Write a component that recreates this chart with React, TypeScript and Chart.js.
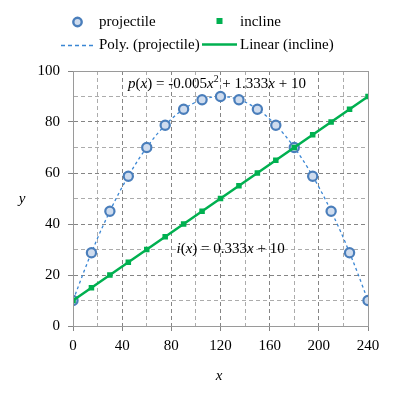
import React, { useEffect, useRef } from 'react';
import { Chart, registerables } from 'chart.js';

Chart.register(...registerables);

const xValues = [0, 15, 30, 45, 60, 75, 90, 105, 120, 135, 150, 165, 180, 195, 210, 225, 240];
const projectile = [10, 28.75, 45, 58.75, 70, 78.75, 85, 88.75, 90, 88.75, 85, 78.75, 70, 58.75, 45, 28.75, 10];
const incline = [10, 15, 20, 25, 30, 35, 40, 45, 50, 55, 60, 65, 70, 75, 80, 85, 90];
const xMajorTicks = [0, 40, 80, 120, 160, 200, 240];
const yMajorTicks = [0, 20, 40, 60, 80, 100];

const SERIF = '"Liberation Serif", "Times New Roman", serif';
const BLUE = '#4a7ebb';
const TREND_BLUE = '#3a86d4';
const GREEN = '#00b050';
const MAJOR = '#858585';
const MINOR = '#acacac';
const FILL = '#cfdcee';

type Run = { t: string; i?: boolean; sup?: boolean };

const pRuns: Run[] = [
  { t: 'p', i: true }, { t: '(' }, { t: 'x', i: true }, { t: ') = -0.005' },
  { t: 'x', i: true }, { t: '2', sup: true }, { t: ' + 1.333' }, { t: 'x', i: true }, { t: ' + 10' },
];
const iRuns: Run[] = [
  { t: 'i', i: true }, { t: '(' }, { t: 'x', i: true }, { t: ') = 0.333' },
  { t: 'x', i: true }, { t: ' + 10' },
];

function runsWidth(ctx: CanvasRenderingContext2D, runs: Run[], size: number) {
  let w = 0;
  for (const r of runs) {
    const fs = r.sup ? size * 0.65 : size;
    ctx.font = `${r.i ? 'italic ' : ''}${fs}px ${SERIF}`;
    w += ctx.measureText(r.t).width;
  }
  return w;
}

function drawRuns(ctx: CanvasRenderingContext2D, runs: Run[], x: number, y: number, size: number, target: number) {
  const natural = runsWidth(ctx, runs, size);
  const chars = runs.reduce((a, r) => a + r.t.length, 0);
  const ls = Math.max(0, (target - natural) / chars);
  let cx = x;
  ctx.fillStyle = '#000';
  ctx.textBaseline = 'middle';
  ctx.textAlign = 'left';
  for (const r of runs) {
    const fs = r.sup ? size * 0.65 : size;
    ctx.font = `${r.i ? 'italic ' : ''}${fs}px ${SERIF}`;
    const dy = r.sup ? -size * 0.3 : 0;
    for (const ch of r.t) {
      ctx.fillText(ch, cx, y + dy);
      cx += ctx.measureText(ch).width + ls;
    }
  }
}

const decorPlugin = {
  id: 'decor',
  afterDatasetsDraw(chart: any) {
    const ctx: CanvasRenderingContext2D = chart.ctx;
    const a = chart.chartArea;
    ctx.save();
    ctx.strokeStyle = '#9a9a9a';
    ctx.lineWidth = 1;
    ctx.setLineDash([]);
    ctx.strokeRect(Math.round(a.left) + 0.5, Math.round(a.top) + 0.5, Math.round(a.right - a.left), Math.round(a.bottom - a.top));
    drawRuns(ctx, pRuns, 128, 84, 15, 178);
    drawRuns(ctx, iRuns, 176.5, 249, 15, 106);
    ctx.font = `italic 15px ${SERIF}`;
    ctx.fillStyle = '#000';
    ctx.textAlign = 'center';
    ctx.textBaseline = 'middle';
    ctx.fillText('y', 22, 199);
    ctx.fillText('x', 219, 376);
    ctx.restore();
  },
  afterDraw(chart: any) {
    const ctx: CanvasRenderingContext2D = chart.ctx;
    ctx.save();
    ctx.font = `15px ${SERIF}`;
    ctx.textBaseline = 'middle';
    ctx.textAlign = 'left';
    ctx.beginPath();
    ctx.arc(77.5, 22, 4.2, 0, Math.PI * 2);
    ctx.fillStyle = FILL;
    ctx.fill();
    ctx.strokeStyle = BLUE;
    ctx.lineWidth = 2.4;
    ctx.stroke();
    ctx.fillStyle = '#000';
    ctx.fillText('projectile', 99, 22);
    ctx.fillStyle = GREEN;
    ctx.fillRect(216.5, 18, 6, 6);
    ctx.fillStyle = '#000';
    ctx.fillText('incline', 240, 22);
    ctx.strokeStyle = TREND_BLUE;
    ctx.lineWidth = 1.4;
    ctx.setLineDash([4, 3]);
    ctx.beginPath();
    ctx.moveTo(61, 45.5);
    ctx.lineTo(93, 45.5);
    ctx.stroke();
    ctx.setLineDash([]);
    ctx.fillText('Poly. (projectile)', 99, 45);
    ctx.strokeStyle = GREEN;
    ctx.lineWidth = 2.5;
    ctx.beginPath();
    ctx.moveTo(202, 44.5);
    ctx.lineTo(237, 44.5);
    ctx.stroke();
    ctx.fillText('Linear (incline)', 240, 45);
    ctx.restore();
  },
};

export default function App() {
  const ref = useRef<HTMLCanvasElement | null>(null);

  useEffect(() => {
    if (!ref.current) return;
    const pts = (ys: number[]) => xValues.map((x, i) => ({ x, y: ys[i] }));
    const chart = new Chart(ref.current, {
      type: 'scatter',
      data: {
        datasets: [
          {
            label: 'incline',
            data: pts(incline),
            showLine: false,
            pointStyle: 'rect',
            pointRadius: 3.9,
            backgroundColor: GREEN,
            borderColor: GREEN,
            borderWidth: 0,
            order: 0,
          },
          {
            label: 'Linear (incline)',
            data: pts(incline),
            showLine: true,
            pointRadius: 0,
            borderColor: GREEN,
            borderWidth: 2.5,
            order: 1,
          },
          {
            label: 'projectile',
            data: pts(projectile),
            showLine: false,
            pointStyle: 'circle',
            pointRadius: 4.6,
            borderWidth: 2.2,
            borderColor: BLUE,
            backgroundColor: FILL,
            order: 2,
          },
          {
            label: 'Poly. (projectile)',
            data: pts(projectile),
            showLine: true,
            tension: 0.4,
            pointRadius: 0,
            borderColor: TREND_BLUE,
            borderWidth: 1.3,
            borderDash: [3, 3],
            order: 3,
          },
        ],
      },
      options: {
        responsive: false,
        animation: false,
        devicePixelRatio: 1,
        layout: { padding: { left: 0, top: 71, right: 28, bottom: 0 } },
        plugins: { legend: { display: false }, tooltip: { enabled: false } },
        scales: {
          x: {
            type: 'linear',
            min: 0,
            max: 240,
            afterFit: (s: any) => { s.height = 74; },
            ticks: {
              stepSize: 20,
              autoSkip: false,
              maxRotation: 0,
              padding: 6,
              color: '#000',
              font: { family: SERIF, size: 15 },
              callback: (v: any) => (xMajorTicks.includes(Number(v)) ? String(v) : ''),
            },
            grid: {
              color: (c: any) => (xMajorTicks.includes(c.tick?.value) ? MAJOR : MINOR),
              tickColor: (c: any) => (xMajorTicks.includes(c.tick?.value) ? MAJOR : 'rgba(0,0,0,0)'),
              tickLength: 5,
              lineWidth: 1,
            },
            border: { display: true, color: MAJOR, dash: [4, 3] },
          },
          y: {
            type: 'linear',
            min: 0,
            max: 100,
            afterFit: (s: any) => { s.width = 73; },
            ticks: {
              stepSize: 10,
              autoSkip: false,
              padding: 8,
              color: '#000',
              font: { family: SERIF, size: 15 },
              callback: (v: any) => (yMajorTicks.includes(Number(v)) ? String(v) : ''),
            },
            grid: {
              color: (c: any) => (yMajorTicks.includes(c.tick?.value) ? MAJOR : MINOR),
              tickColor: (c: any) => (yMajorTicks.includes(c.tick?.value) ? MAJOR : 'rgba(0,0,0,0)'),
              tickLength: 5,
              lineWidth: 1,
            },
            border: { display: true, color: MAJOR, dash: [4, 3] },
          },
        },
      },
      plugins: [decorPlugin],
    });
    return () => chart.destroy();
  }, []);

  return (
    <div style={{ position: 'fixed', left: 0, top: 0, width: 396, height: 400, background: '#fff' }}>
      <canvas ref={ref} width={396} height={400} style={{ width: 396, height: 400 }} />
    </div>
  );
}
